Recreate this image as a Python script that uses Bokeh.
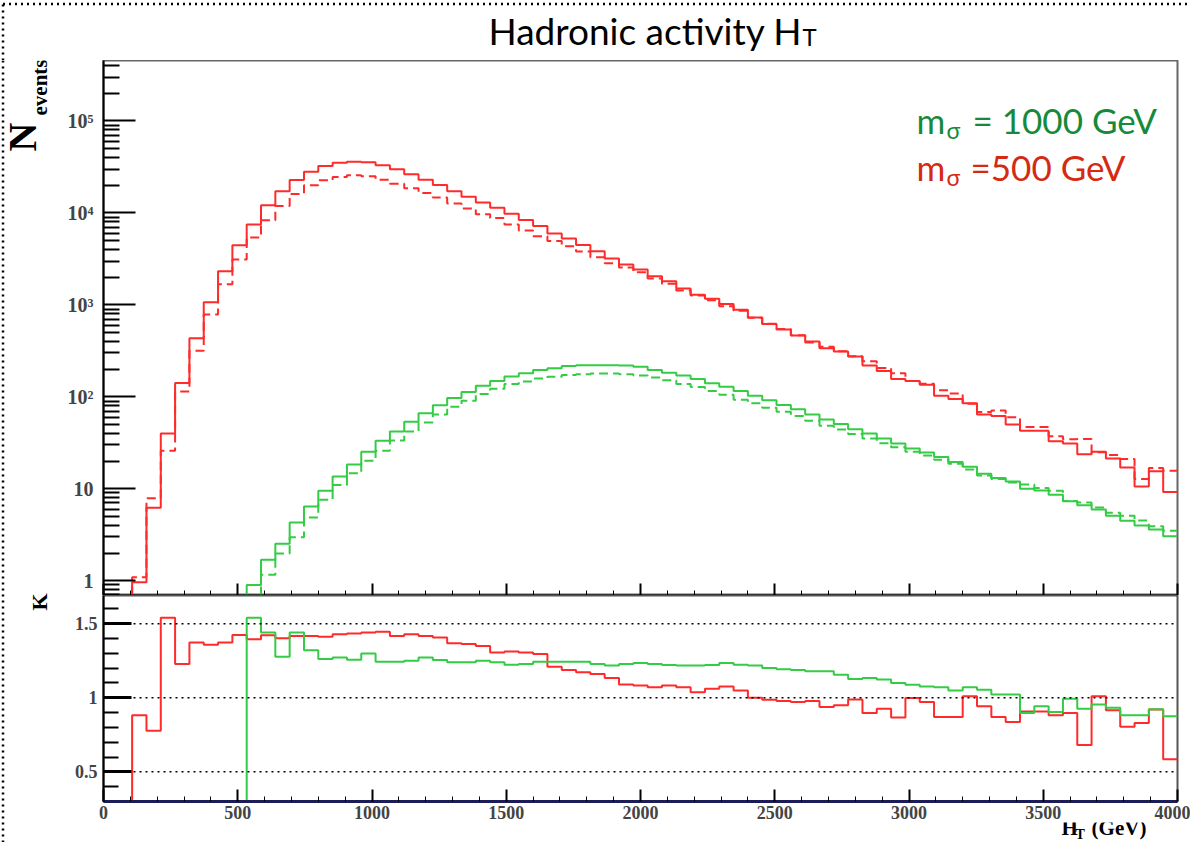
import math
from bokeh.plotting import figure
from bokeh.models import FixedTicker, Label, Range1d, Span
from bokeh.layouts import column, row
from bokeh.embed import file_html
from bokeh.resources import INLINE

# ---------------- data ----------------
N_BINS = 75
X_MAX = 4000.0

# first filled bin index of each series
RED_FIRST = 2
GREEN_FIRST = 10
GREEN_LO_FIRST = 11

red_nlo = [0.96, 6.2, 40, 141, 434, 1069, 2322, 4454, 7470, 12110, 17200, 22850, 28130,
           32440, 35250, 36140, 35560, 32970, 29840, 26310, 23030, 20150, 17200, 15000,
           13000, 11410, 9820, 8370, 7200, 5990, 5280, 4470, 3840, 3195, 2748, 2423, 2049,
           1807, 1503, 1292, 1169, 1022, 887, 731, 618, 541, 465, 400, 338, 311, 274, 219,
           191, 156, 149, 135, 103, 94.6, 84.9, 64.4, 61.7, 50.1, 42.7, 42.7, 32.9, 31.0,
           23.7, 25.2, 21.3, 17.0, 10.6, 15.5, 9.2]
red_lo = [1.09, 7.9, 25.9, 114, 316, 785, 1678, 3110, 5395, 8320, 11910, 16100, 20000,
          22650, 24600, 25660, 25000, 23030, 20830, 18540, 16500, 14680, 12630, 11200,
          9700, 8800, 7500, 6430, 5580, 4950, 4350, 3800, 3300, 2840, 2545, 2260, 1940,
          1700, 1435, 1265, 1120, 968, 865, 725, 622, 547, 466, 390, 350, 313, 277, 244,
          206, 180, 149, 139, 118, 108.6, 84, 68.4, 70.8, 59.9, 47, 47, 37.3, 34.6, 34.8,
          24.9, 23.3, 21.1, 12.8, 16.8, 15.7]
green_nlo = [0.9, 1.69, 2.52, 4.3, 6.43, 9.5, 13.6, 18.4, 25.2, 33.2, 42, 53.5, 66.4, 81,
             96.8, 113, 132, 149, 166, 180, 196, 205, 217, 221, 221, 221, 219, 212, 196,
             183, 170, 156, 140, 129, 116, 103, 91.5, 81.4, 73, 64.4, 56.8, 50.6, 44.5,
             39.9, 35.2, 31.0, 27.4, 24.8, 22.2, 19.6, 17.3, 14.6, 13.1, 12.0, 10.0, 9.6,
             8.6, 7.3, 6.6, 5.96, 5.1, 4.5, 3.99, 3.6, 3.05]
green_lo = [1.16, 1.98, 2.96, 4.88, 7.6, 11.0, 14.7, 20.1, 25.9, 33.5, 42, 52.6, 64.3,
            77.8, 90.5, 107, 122, 138, 147, 158, 165, 173, 176, 179, 179, 176, 170, 162,
            151, 138, 128, 116, 105, 93, 85, 76, 68.8, 62, 55, 48.5, 44, 39.5, 35.2, 31.3,
            28.2, 25.2, 23.0, 20.7, 18.7, 16.2, 13.9, 12.8, 11.7, 11.1, 10.2, 9.5, 7.35,
            7.1, 6.24, 5.47, 5.1, 4.52, 3.9, 3.49]
k_red = [0.882, 0.777, 1.540, 1.228, 1.373, 1.357, 1.373, 1.424, 1.395, 1.422, 1.402,
         1.417, 1.417, 1.411, 1.429, 1.433, 1.440, 1.446, 1.417, 1.429, 1.417, 1.406,
         1.368, 1.362, 1.350, 1.306, 1.312, 1.306, 1.295, 1.210, 1.188, 1.172, 1.161,
         1.134, 1.089, 1.083, 1.071, 1.083, 1.071, 1.038, 1.060, 1.076, 1.049, 1.000,
         0.987, 0.978, 0.971, 0.978, 0.938, 0.949, 0.989, 0.897, 0.926, 0.866, 0.998,
         0.971, 0.871, 0.871, 1.011, 0.942, 0.871, 0.837, 0.908, 0.908, 0.882, 0.897,
         0.681, 1.011, 0.915, 0.804, 0.830, 0.920, 0.585]
k_green = [1.540, 1.440, 1.277, 1.440, 1.321, 1.261, 1.272, 1.257, 1.299, 1.243, 1.243,
           1.250, 1.272, 1.254, 1.239, 1.239, 1.250, 1.239, 1.223, 1.228, 1.243, 1.243,
           1.243, 1.243, 1.228, 1.217, 1.228, 1.234, 1.228, 1.221, 1.217, 1.217, 1.221,
           1.234, 1.223, 1.217, 1.201, 1.192, 1.188, 1.179, 1.179, 1.156, 1.127, 1.134,
           1.123, 1.100, 1.087, 1.076, 1.071, 1.049, 1.071, 1.054, 1.022, 1.022, 0.897,
           0.942, 0.904, 0.993, 0.926, 0.955, 0.933, 0.882, 0.882, 0.922, 0.875]

x_major = [0, 500, 1000, 1500, 2000, 2500, 3000, 3500, 4000]
x_labels = ["0", "500", "1000", "1500", "2000", "2500", "3000", "3500", "4000"]
y_major = [1, 10, 100, 1000, 10000, 100000]
y_labels = ["1", "10", "10\u00b2", "10\u00b3", "10\u2074", "10\u2075"]
k_major = [0.5, 1.0, 1.5]
k_labels = ["0.5", "1", "1.5"]

title_main = "Hadronic activity H"
title_sub = "T"
legend_green = "= 1000 GeV"
legend_red = "=500 GeV"

# ---------------- style ----------------
RED = "#ff2a2a"
GREEN = "#33cc44"
LEG_GREEN = "#168a3a"
LEG_RED = "#d42a12"
SERIF = "Liberation Serif"
SANS = "Lato"

Y_MIN, Y_MAX = 0.69, 4.55e5
K_MIN, K_MAX = 0.3, 1.69

PAGE_W = 1190
LEFT_W = 52             # strip holding the y titles (page x 0..52)
MAIN_W = PAGE_W - LEFT_W
LEFT = 51               # frame left at page x 103
RIGHT = PAGE_W - 1177   # frame right at page x 1177
FRAME_W = MAIN_W - LEFT - RIGHT
TITLE_H = 60            # frame top at page y 60
TOP_H = 535             # frame 60..593 + thin axis
BOT_H = 227             # frame 595..801 + tick labels
XLAB_H = 20
ROW_H = TOP_H + BOT_H + XLAB_H
PAGE_H = TITLE_H + ROW_H

BIN_W = X_MAX / N_BINS
edges = [i * BIN_W for i in range(N_BINS + 1)]


def hist_path(first, vals, floor):
    xs = [edges[first]]
    ys = [floor]
    for k, v in enumerate(vals):
        xs += [edges[first + k], edges[first + k + 1]]
        ys += [v, v]
    return xs, ys


# page pixel -> plot data, for placing the legend texts inside the top frame
PX_PER_X = FRAME_W / X_MAX
FRAME_X0 = LEFT_W + LEFT
TOP_FRAME_Y1 = TITLE_H + 533
DEC_PX = 533 / (math.log10(Y_MAX) - math.log10(Y_MIN))


def tx(px):
    return (px - FRAME_X0) / PX_PER_X


def ty(py):
    return 10 ** (math.log10(Y_MIN) + (TOP_FRAME_Y1 - py) / DEC_PX)


x_minor = [v for v in range(100, 4000, 100) if v % 500 != 0]
y_minor = [k * 10 ** d for d in range(-1, 6) for k in range(2, 10)
           if Y_MIN < k * 10 ** d < Y_MAX]
k_minor = [0.4, 0.6, 0.7, 0.8, 0.9, 1.1, 1.2, 1.3, 1.4, 1.6]


def strip(w, h):
    f = figure(width=w, height=h, x_range=Range1d(0, w), y_range=Range1d(0, h),
               x_axis_location=None, y_axis_location=None, output_backend="svg",
               toolbar_location=None, min_border=0)
    f.grid.visible = False
    f.outline_line_color = None
    return f


DOTS = dict(line_color="black", line_width=2.5, line_dash="2 4")

# ---------------- title strip (page y 0..60) ----------------
pt = strip(PAGE_W, TITLE_H)
pt.line([2.5, 2.5], [0, TITLE_H], **DOTS)
pt.line([2.5, PAGE_W], [TITLE_H - 3.5, TITLE_H - 3.5], **DOTS)
pt.add_layout(Label(x=802, y=TITLE_H - 52, text=title_main, text_font=SANS,
                    text_font_size="37px", text_align="right", text_baseline="bottom",
                    text_color="black"))
pt.add_layout(Label(x=802, y=TITLE_H - 50, text=title_sub, text_font=SANS,
                    text_font_size="24px", text_align="left", text_baseline="bottom",
                    text_color="black"))

# ---------------- left strip (page x 0..52, y 60..842) ----------------
pl = strip(LEFT_W, ROW_H)
pl.line([2.5, 2.5], [0, ROW_H], **DOTS)
pl.add_layout(Label(x=44, y=PAGE_H - 151, text="N", text_font=SERIF, text_font_style="bold",
                    text_font_size="40px", angle=math.pi / 2, text_align="left",
                    text_baseline="bottom", text_color="black"))
pl.add_layout(Label(x=51, y=PAGE_H - 115, text="events", text_font=SERIF, text_font_style="bold",
                    text_font_size="21px", angle=math.pi / 2, text_align="left",
                    text_baseline="bottom", text_color="black"))
pl.add_layout(Label(x=51, y=PAGE_H - 610, text="K", text_font=SERIF, text_font_style="bold",
                    text_font_size="22px", angle=math.pi / 2, text_align="left",
                    text_baseline="bottom", text_color="black"))

# ---------------- top panel ----------------
p1 = figure(width=MAIN_W, height=TOP_H, x_range=Range1d(0, X_MAX), y_range=Range1d(Y_MIN, Y_MAX),
            y_axis_type="log", output_backend="svg", toolbar_location=None,
            min_border_left=LEFT, min_border_right=RIGHT, min_border_top=0, min_border_bottom=0)
p1.grid.visible = False
p1.outline_line_color = "#666666"
p1.outline_line_width = 2

xa = p1.xaxis[0]
xa.ticker = FixedTicker(ticks=x_major, minor_ticks=x_minor)
xa.major_label_text_font_size = "0px"
xa.major_label_standoff = 0
xa.major_tick_in, xa.major_tick_out = 12, 0
xa.minor_tick_in, xa.minor_tick_out = 5, 0
xa.axis_line_width = 2
xa.major_tick_line_width = 2

ya = p1.yaxis[0]
ya.ticker = FixedTicker(ticks=y_major, minor_ticks=y_minor)
ya.major_label_overrides = {v: s for v, s in zip(y_major, y_labels)}
ya.major_label_text_font = SERIF
ya.major_label_text_font_style = "bold"
ya.major_label_text_font_size = "20px"
ya.major_label_standoff = 10
ya.major_tick_in, ya.major_tick_out = 32, 0
ya.minor_tick_in, ya.minor_tick_out = 16, 0
ya.axis_line_width = 2
ya.major_tick_line_width = 2
ya.minor_tick_line_width = 2

for first, vals, col, dash in [
    (RED_FIRST, red_lo, RED, "9 5"),
    (GREEN_LO_FIRST, green_lo, GREEN, "9 5"),
    (RED_FIRST, red_nlo, RED, "solid"),
    (GREEN_FIRST, green_nlo, GREEN, "solid"),
]:
    xs, ys = hist_path(first, vals, Y_MIN)
    p1.line(xs, ys, line_color=col, line_width=2, line_dash=dash)

# legend texts (baseline of line 1 at page y 135, line 2 at 182)
for base, txt, col, start_px in [(135, legend_green, LEG_GREEN, 972), (182, legend_red, LEG_RED, 970)]:
    p1.add_layout(Label(x=tx(916), y=ty(base + 5.5), text="m", text_font=SANS, text_font_size="35px",
                        text_align="left", text_baseline="bottom", text_color=col))
    p1.add_layout(Label(x=tx(946), y=ty(base + 8), text="\u03c3", text_font=SANS,
                        text_font_size="23px", text_align="left", text_baseline="bottom",
                        text_color=col))
    p1.add_layout(Label(x=tx(start_px), y=ty(base + 5.5), text=txt, text_font=SANS,
                        text_font_size="35px", text_align="left", text_baseline="bottom",
                        text_color=col))

# ---------------- ratio panel ----------------
p2 = figure(width=MAIN_W, height=BOT_H, x_range=p1.x_range, y_range=Range1d(K_MIN, K_MAX),
            output_backend="svg", toolbar_location=None,
            min_border_left=LEFT, min_border_right=RIGHT, min_border_top=0, min_border_bottom=21)
p2.grid.visible = False
p2.outline_line_color = "#555555"
p2.outline_line_width = 2

xb = p2.xaxis[0]
xb.ticker = FixedTicker(ticks=x_major, minor_ticks=x_minor)
xb.major_label_overrides = {v: s for v, s in zip(x_major, x_labels)}
xb.major_label_text_font = SERIF
xb.major_label_text_font_style = "bold"
xb.major_label_text_font_size = "18px"
xb.major_label_standoff = 4
xb.major_tick_in, xb.major_tick_out = 12, 0
xb.minor_tick_in, xb.minor_tick_out = 5, 0
xb.axis_line_width = 3
xb.axis_line_color = "#1c1c58"
xb.major_tick_line_width = 2

yb = p2.yaxis[0]
yb.ticker = FixedTicker(ticks=k_major, minor_ticks=k_minor)
yb.major_label_overrides = {v: s for v, s in zip(k_major, k_labels)}
yb.major_label_text_font = SERIF
yb.major_label_text_font_style = "bold"
yb.major_label_text_font_size = "18px"
yb.major_label_standoff = 6
yb.major_tick_in, yb.major_tick_out = 28, 0
yb.minor_tick_in, yb.minor_tick_out = 15, 0
yb.axis_line_width = 2
yb.major_tick_line_width = 3
yb.minor_tick_line_width = 2

for loc in k_major:
    p2.add_layout(Span(location=loc, dimension="width", line_color="black",
                       line_width=1.5, line_dash="2 4"))

for first, vals, col in [(RED_FIRST, k_red, RED), (GREEN_FIRST, k_green, GREEN)]:
    xs, ys = hist_path(first, vals, K_MIN - 0.05)
    p2.line(xs, ys, line_color=col, line_width=2)

# ---------------- x-title strip (page y 822..842) ----------------
px = strip(MAIN_W, XLAB_H)
px.add_layout(Label(x=1067 - LEFT_W, y=2.5, text="H", text_font=SERIF, text_font_style="bold",
                    text_font_size="21px", text_align="left", text_baseline="bottom",
                    text_color="black"))
px.add_layout(Label(x=1082 - LEFT_W, y=0.5, text="T", text_font=SERIF, text_font_style="bold",
                    text_font_size="14px", text_align="left", text_baseline="bottom",
                    text_color="black"))
px.add_layout(Label(x=1099 - LEFT_W, y=2.5, text="(GeV)", text_font=SERIF, text_font_style="bold",
                    text_font_size="21px", text_align="left", text_baseline="bottom",
                    text_color="black"))

layout = column(pt, row(pl, column(p1, p2, px)))

open("out.html", "w").write(file_html(layout, INLINE))
